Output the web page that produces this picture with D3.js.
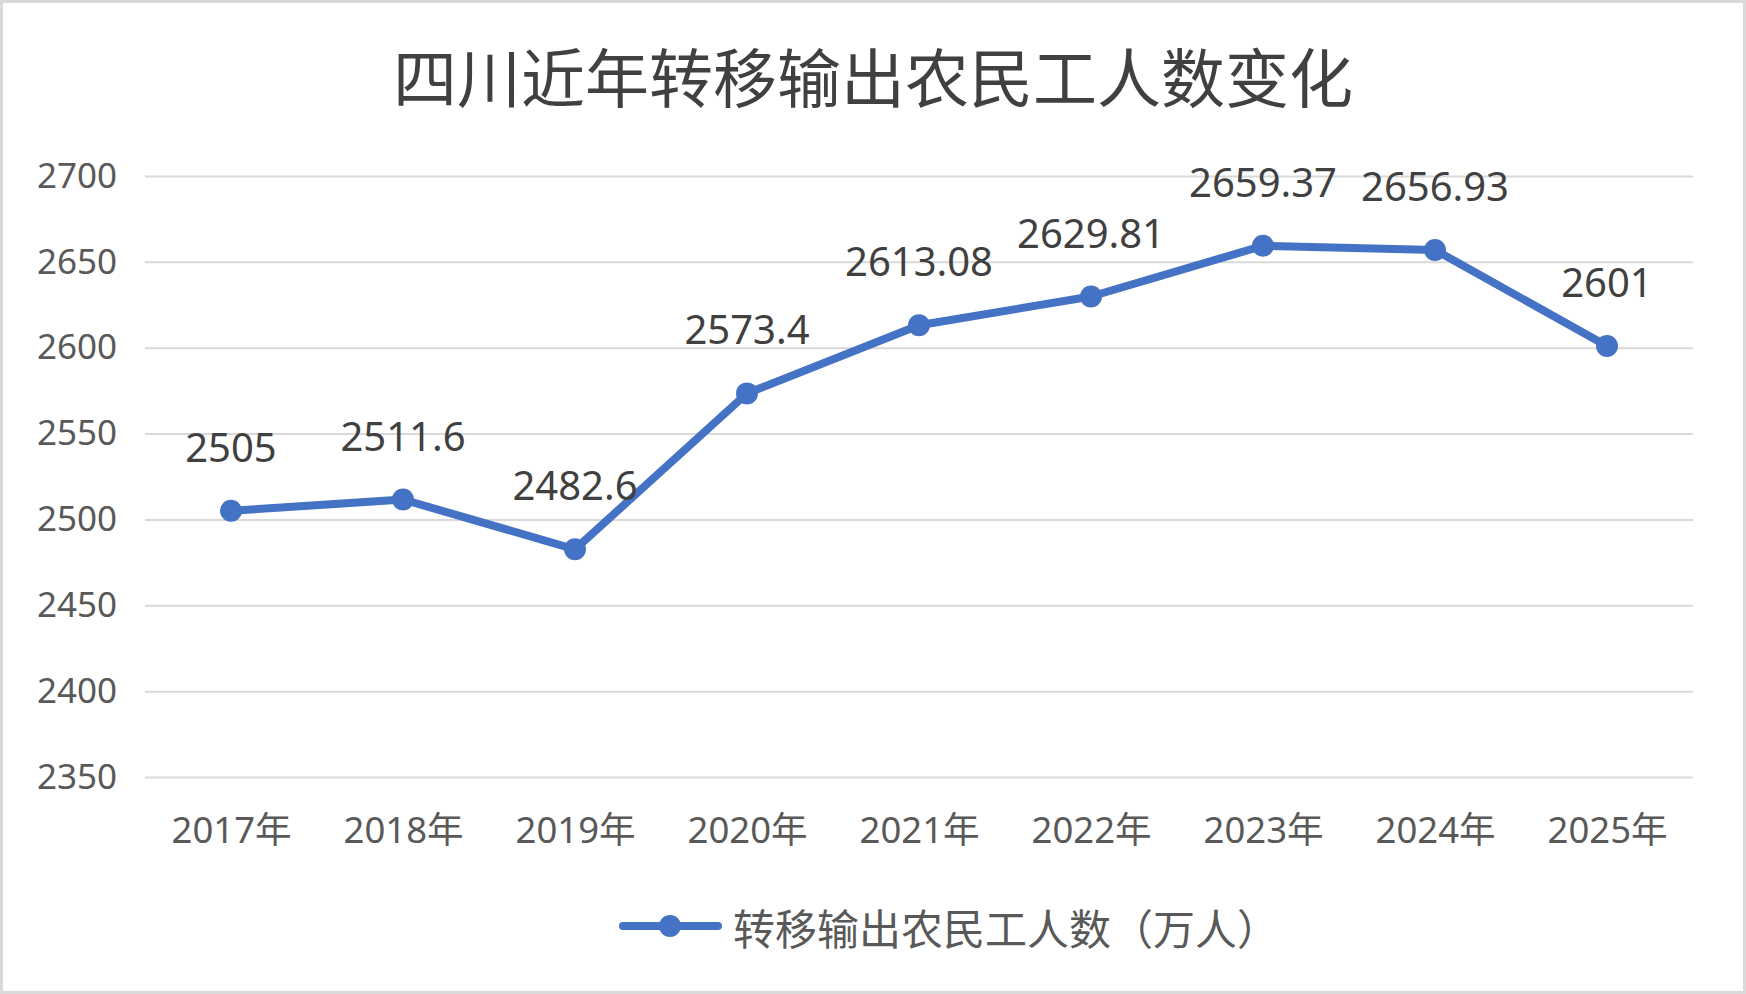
<!DOCTYPE html>
<html>
<head>
<meta charset="utf-8">
<script src="https://cdn.jsdelivr.net/npm/d3@7"></script>
<style>
  body { margin: 0; background: #fff; }
  text { font-family: "Noto Sans", "Noto Sans CJK SC", sans-serif; }
  .cjk { font-family: "Noto Sans CJK SC", sans-serif; }
</style>
</head>
<body>
<div id="chart"></div>
<script>
// data
const years = ["2017年", "2018年", "2019年", "2020年", "2021年", "2022年", "2023年", "2024年", "2025年"];
const workers = [2505, 2511.6, 2482.6, 2573.4, 2613.08, 2629.81, 2659.37, 2656.93, 2601];
const yTicks = [2350, 2400, 2450, 2500, 2550, 2600, 2650, 2700];
const title = "四川近年转移输出农民工人数变化";
const seriesName = "转移输出农民工人数（万人）";

const W = 1746, H = 994;
const plot = {left: 145, right: 1693, top: 176, bottom: 777};
const blue = "#4472C4";

let svg = d3.select("#chart")
            .append("svg")
            .attr("width", W)
            .attr("height", H);

// outer frame
svg.append("rect")
   .attr("x", 1.5).attr("y", 1.5)
   .attr("width", W - 3).attr("height", H - 3)
   .attr("fill", "#fff")
   .attr("stroke", "#d9d9d9")
   .attr("stroke-width", 3);

svg.append("text")
   .attr("class", "cjk")
   .attr("x", W / 2)
   .attr("y", 74)
   .attr("text-anchor", "middle")
   .attr("dominant-baseline", "central")
   .attr("font-size", 64)
   .attr("fill", "#404040")
   .text(title);

const xScale = d3.scalePoint()
  .domain(years)
  .range([plot.left, plot.right])
  .padding(0.5);

const yScale = d3.scaleLinear()
  .domain([2350, 2700])
  .range([plot.bottom, plot.top]);

// y axis with gridlines
const yAxis = svg.append("g")
  .attr("transform", `translate(${plot.left}, 0)`)
  .call(d3.axisLeft(yScale)
          .tickValues(yTicks)
          .tickFormat(d3.format("d"))
          .tickSize(-(plot.right - plot.left))
          .tickPadding(28));
yAxis.select(".domain").remove();
yAxis.selectAll("line").attr("stroke", "#d9d9d9").attr("stroke-width", 2);
yAxis.selectAll("text")
  .attr("font-size", 35)
  .attr("fill", "#595959")
  .style("font-family", "'Noto Sans', sans-serif");

// x axis labels
const xAxis = svg.append("g")
  .attr("transform", `translate(0, ${plot.bottom})`)
  .call(d3.axisBottom(xScale).tickSize(0).tickPadding(40));
xAxis.select(".domain").remove();
xAxis.selectAll("text")
  .attr("font-size", 36.5)
  .attr("fill", "#595959")
  .style("font-family", "'Noto Sans', 'Noto Sans CJK SC', sans-serif");

const pts = years.map((y, i) => [xScale(y), yScale(workers[i])]);

svg.append("path")
  .attr("d", d3.line()(pts))
  .attr("fill", "none")
  .attr("stroke", blue)
  .attr("stroke-width", 8)
  .attr("stroke-linejoin", "round")
  .attr("stroke-linecap", "round");

svg.selectAll("circle.pt")
  .data(pts)
  .join("circle")
  .attr("class", "pt")
  .attr("cx", d => d[0])
  .attr("cy", d => d[1])
  .attr("r", 11)
  .attr("fill", blue);

svg.selectAll("text.lbl")
  .data(workers)
  .join("text")
  .attr("class", "lbl")
  .attr("x", (d, i) => xScale(years[i]))
  .attr("y", d => yScale(d) - 49)
  .attr("text-anchor", "middle")
  .attr("font-size", 40)
  .attr("fill", "#404040")
  .text(d => d);

// legend
const lg = svg.append("g").attr("transform", "translate(623, 926)");
lg.append("line")
  .attr("x1", 0).attr("x2", 95)
  .attr("stroke", blue)
  .attr("stroke-width", 8)
  .attr("stroke-linecap", "round");
lg.append("circle").attr("cx", 47).attr("r", 11).attr("fill", blue);
lg.append("text")
  .attr("class", "cjk")
  .attr("x", 110)
  .attr("dominant-baseline", "central")
  .attr("font-size", 42)
  .attr("fill", "#595959")
  .text(seriesName);
</script>
</body>
</html>
